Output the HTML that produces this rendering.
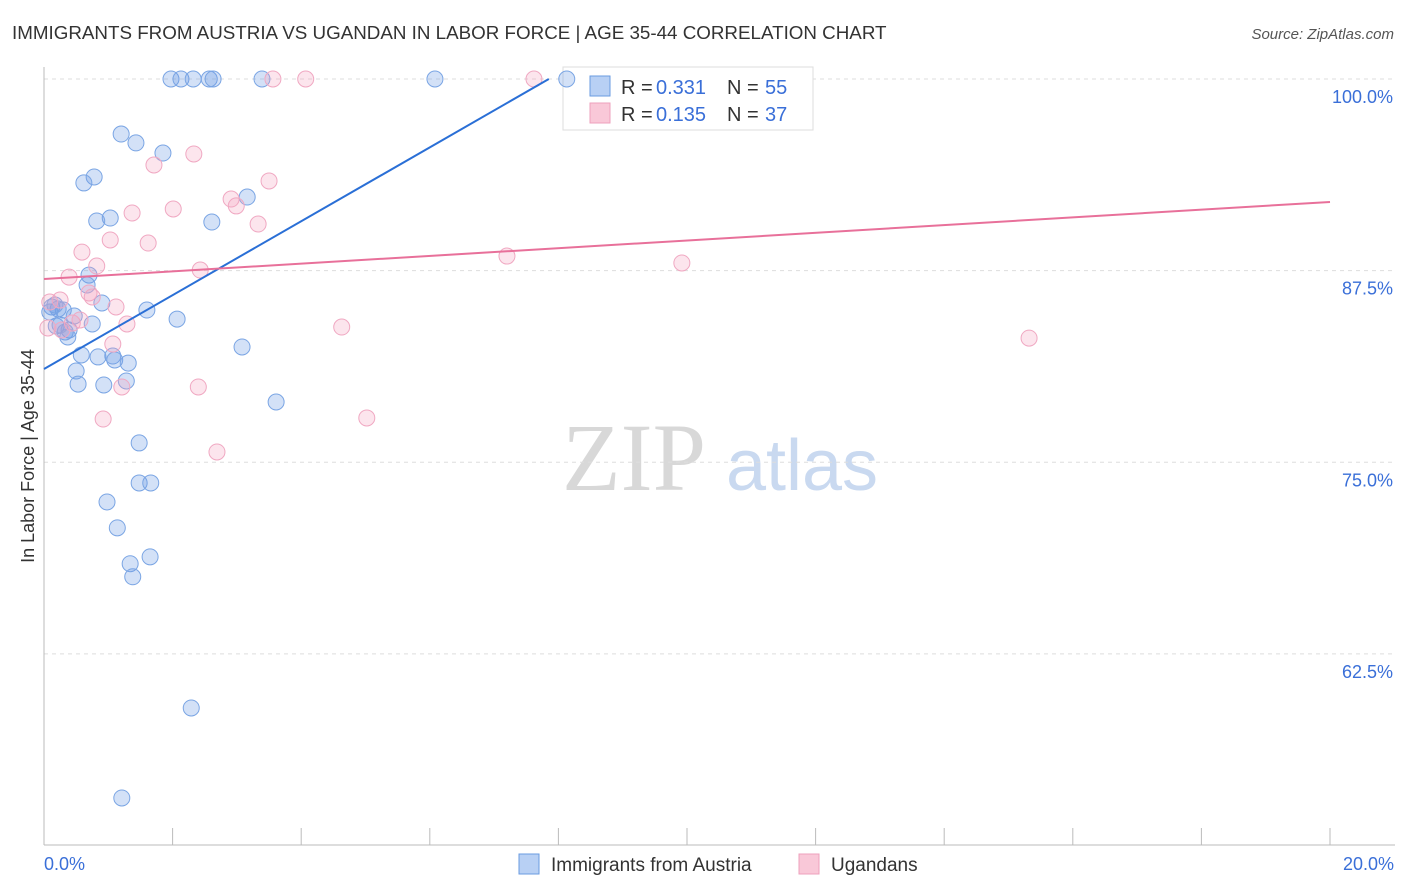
<!DOCTYPE html>
<html><head><meta charset="utf-8"><style>
body{margin:0;background:#fff;font-family:"Liberation Sans",sans-serif;}
#wrap{position:relative;width:1406px;height:892px;overflow:hidden;}
</style></head><body>
<div id="wrap">
<svg id="svg" width="1406" height="892" xmlns="http://www.w3.org/2000/svg">
<text x="12" y="39" font-size="18.8" fill="#333">IMMIGRANTS FROM AUSTRIA VS UGANDAN IN LABOR FORCE | AGE 35-44 CORRELATION CHART</text>
<text x="1394" y="39" font-size="15" fill="#555" text-anchor="end" font-style="italic">Source: ZipAtlas.com</text>
<text x="34" y="456" font-size="18" fill="#333" text-anchor="middle" transform="rotate(-90 34 456)">In Labor Force | Age 35-44</text>
<g>
<text x="634" y="490" font-size="96" fill="#d8d8d8" text-anchor="middle" font-family="Liberation Serif,serif">ZIP</text>
<text x="802" y="490" font-size="72" fill="#c9d9f0" text-anchor="middle">atlas</text>
</g>
<g id="grid"></g>
<g>
<rect x="563" y="67" width="250" height="63" fill="#fff" stroke="#ddd"/>
<rect x="590" y="76" width="20" height="20" fill="#b8d0f4" stroke="#6a9be0"/>
<rect x="590" y="103" width="20" height="20" fill="#f9c8d8" stroke="#eea0bc"/>
<g font-size="20">
<text x="621" y="94" fill="#333">R =</text><text x="656" y="94" fill="#3a6fd8">0.331</text>
<text x="727" y="94" fill="#333">N =</text><text x="765" y="94" fill="#3a6fd8">55</text></g>
<g font-size="20">
<text x="621" y="121" fill="#333">R =</text><text x="656" y="121" fill="#3a6fd8">0.135</text>
<text x="727" y="121" fill="#333">N =</text><text x="765" y="121" fill="#3a6fd8">37</text></g>
</g>
<g id="marks"></g>
<g>
<rect x="519" y="854" width="20" height="20" fill="#b8d0f4" stroke="#6a9be0"/>
<text x="551" y="871" font-size="19" fill="#333">Immigrants from Austria</text>
<rect x="799" y="854" width="20" height="20" fill="#f9c8d8" stroke="#eea0bc"/>
<text x="831" y="871" font-size="19" fill="#333">Ugandans</text>
</g>
</svg>
</div>
<script>
const yTicks=[100,87.5,75,62.5];
const yTickLabels=["100.0%","87.5%","75.0%","62.5%"];
const xTickLabels=["0.0%","20.0%"];
const blueX=[1.975,2.13,2.32,2.57,2.63,3.39,6.08,8.13,1.20,1.43,1.85,0.78,0.62,3.16,1.03,0.82,2.61,0.70,0.67,0.90,0.12,0.22,0.30,1.60,0.47,2.07,0.75,0.19,0.39,0.33,0.37,3.08,0.58,1.07,0.84,1.10,1.31,0.50,1.28,0.53,0.93,3.61,1.48,1.48,1.66,0.98,1.14,1.65,1.34,1.38,2.29,1.21,0.09,0.17,0.25];
const blueY=[100,100,100,100,100,100,100,100,96.41,95.83,95.17,93.61,93.22,92.30,90.93,90.74,90.67,87.21,86.56,85.39,85.13,85.00,84.93,84.93,84.54,84.34,84.02,83.89,83.63,83.50,83.17,82.52,82.00,81.93,81.87,81.67,81.47,80.95,80.30,80.10,80.04,78.93,76.26,73.65,73.65,72.41,70.72,68.83,68.38,67.53,58.97,53.10,84.80,85.26,83.95];
const pinkX=[3.56,4.07,7.62,1.71,2.33,3.50,2.91,2.99,2.01,1.37,3.33,1.03,1.62,0.59,7.20,9.92,2.43,0.39,0.82,0.70,0.75,1.12,0.25,0.09,0.44,1.29,4.63,0.06,1.07,15.32,2.40,1.21,0.92,5.02,2.69,0.28,0.56];
const pinkY=[100,100,100,94.39,95.11,93.35,92.17,91.72,91.52,91.26,90.54,89.50,89.30,88.71,88.45,88.00,87.54,87.08,87.80,86.04,85.78,85.13,85.58,85.45,84.08,84.02,83.82,83.76,82.71,83.10,79.91,79.91,77.82,77.89,75.67,83.63,84.28];
const blueTrend=[81.08,2.41];
const pinkTrend=[86.95,0.2515];

const NS="http://www.w3.org/2000/svg";
const X=v=>44+v*64.3;
const Y=v=>79+(100-v)*15.33;
function mk(tag,attrs,parent){const e=document.createElementNS(NS,tag);for(const k in attrs)e.setAttribute(k,attrs[k]);parent.appendChild(e);return e;}
const grid=document.getElementById('grid'),marks=document.getElementById('marks');
yTicks.forEach((t,i)=>{
  const l=mk('line',{x1:44,x2:1395,y1:Y(t),y2:Y(t),stroke:'#ddd','stroke-dasharray':'4,4'},grid);
  
  
  const tx=mk('text',{x:1393,y:Y(t)+24,'font-size':18,fill:'#3a6fd8','text-anchor':'end'},grid);
  tx.textContent=yTickLabels[i];
  
  
});
for(let i=0;i<=10;i++){
  const l=mk('line',{x1:X(i*2),x2:X(i*2),y1:828,y2:845,stroke:'#bbb'},grid);
  
  
}
let a=mk('line',{x1:44,x2:44,y1:67,y2:845,stroke:'#bbb'},grid);


a=mk('line',{x1:44,x2:1395,y1:845,y2:845,stroke:'#bbb'},grid);


[[0,'start',44],[20,'end',1394]].forEach((d,i)=>{
  const t=mk('text',{x:d[2],y:870,'font-size':18,fill:'#3a6fd8','text-anchor':d[1]},grid);
  t.textContent=xTickLabels[i];
  
  
});
blueX.forEach((v,i)=>{
  const c=mk('circle',{cx:X(v),cy:Y(blueY[i]),r:8,fill:'rgba(110,155,230,0.3)',stroke:'#7aa5e4','stroke-width':1},marks);
  
  
});
pinkX.forEach((v,i)=>{
  const c=mk('circle',{cx:X(v),cy:Y(pinkY[i]),r:8,fill:'rgba(245,160,190,0.28)',stroke:'#f0a8c2','stroke-width':1},marks);
  
  
});
const bEnd=(100-blueTrend[0])/blueTrend[1];
let tl=mk('line',{x1:X(0),y1:Y(blueTrend[0]),x2:X(bEnd),y2:Y(100),stroke:'#2a6fd6','stroke-width':2},marks);


tl=mk('line',{x1:X(0),y1:Y(pinkTrend[0]),x2:X(20),y2:Y(pinkTrend[0]+pinkTrend[1]*20),stroke:'#e8709a','stroke-width':2},marks);


</script>
</body></html>
